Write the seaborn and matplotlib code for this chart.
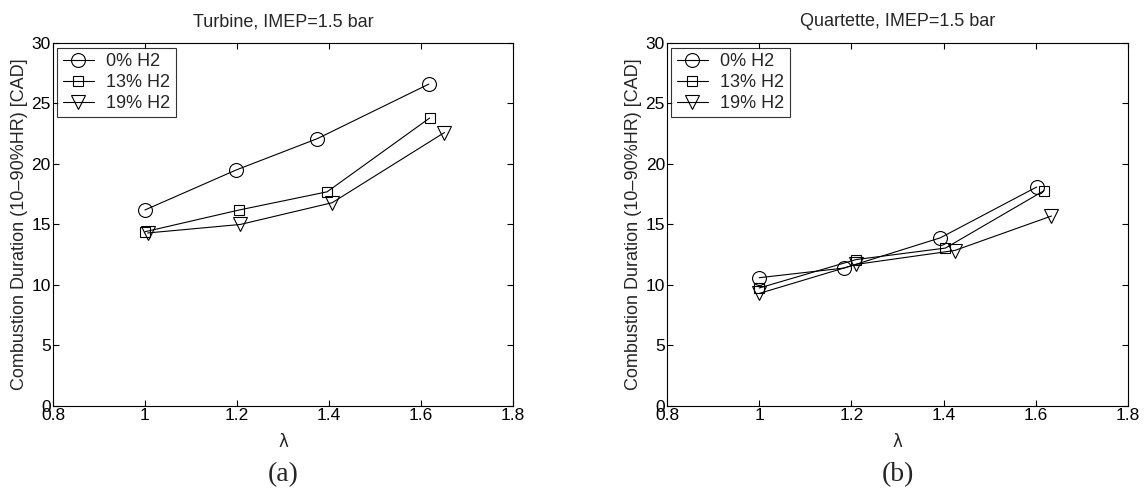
import matplotlib
matplotlib.use("Agg")
import matplotlib.pyplot as plt
import seaborn as sns
import pandas as pd

sns.set_theme(style="white")
plt.rcParams['font.family'] = ['Liberation Sans', 'DejaVu Sans']

series_labels = ["0% H2", "13% H2", "19% H2"]
markers = ["o", "s", "v"]

# Panel (a) Turbine
turb_lambda_0 = [1.0, 1.198, 1.375, 1.617]
turb_cd_0 = [16.2, 19.5, 22.1, 26.6]
turb_lambda_13 = [1.0, 1.205, 1.396, 1.619]
turb_cd_13 = [14.4, 16.2, 17.7, 23.8]
turb_lambda_19 = [1.006, 1.207, 1.407, 1.651]
turb_cd_19 = [14.3, 15.0, 16.8, 22.6]

# Panel (b) Quartette
quar_lambda_0 = [1.0, 1.184, 1.393, 1.602]
quar_cd_0 = [10.6, 11.4, 13.9, 18.1]
quar_lambda_13 = [1.0, 1.21, 1.404, 1.618]
quar_cd_13 = [9.75, 12.1, 13.05, 17.8]
quar_lambda_19 = [1.0, 1.21, 1.424, 1.634]
quar_cd_19 = [9.3, 11.7, 12.85, 15.7]

titles = ["Turbine, IMEP=1.5 bar", "Quartette, IMEP=1.5 bar"]
panel_letters = ["(a)", "(b)"]
xticks = [0.8, 1.0, 1.2, 1.4, 1.6, 1.8]
xticklabels = ["0.8", "1", "1.2", "1.4", "1.6", "1.8"]
yticks = [0, 5, 10, 15, 20, 25, 30]

panels = [
    [(turb_lambda_0, turb_cd_0), (turb_lambda_13, turb_cd_13), (turb_lambda_19, turb_cd_19)],
    [(quar_lambda_0, quar_cd_0), (quar_lambda_13, quar_cd_13), (quar_lambda_19, quar_cd_19)],
]

fig = plt.figure(figsize=(11.46, 4.93), dpi=100)
positions = [[0.0462, 0.1765, 0.4014, 0.7363], [0.582, 0.1765, 0.4023, 0.7363]]

for p, (pos, data) in enumerate(zip(positions, panels)):
    ax = fig.add_axes(pos)
    for (xs, ys), lab, mk in zip(data, series_labels, markers):
        df = pd.DataFrame({"x": xs, "y": ys})
        sns.lineplot(data=df, x="x", y="y", ax=ax, color="black", linewidth=0.8,
                     marker=mk, markersize=10 if mk != "s" else 7.5,
                     markerfacecolor="none", markeredgecolor="black",
                     markeredgewidth=0.8, label=lab, sort=False)
    ax.set_xlim(0.8, 1.8)
    ax.set_ylim(0, 30)
    ax.set_xticks(xticks)
    ax.set_xticklabels(xticklabels)
    ax.set_yticks(yticks)
    ax.tick_params(direction="in", length=4, width=0.8, top=True, right=True,
                   labelsize=12.5, colors="black", pad=1.5,
                   bottom=True, left=True)
    for s in ax.spines.values():
        s.set_color("black")
        s.set_linewidth(0.8)
    ax.set_xlabel("λ", fontsize=12, family=['DejaVu Sans'])
    ax.xaxis.set_label_coords(0.5, -0.099)
    ax.xaxis.label.set_va("center")
    ax.set_ylabel("Combustion Duration (10\u201390%HR) [CAD]", fontsize=13)
    ax.yaxis.set_label_coords(-0.072, 0.5)
    ax.yaxis.label.set_va("center")
    ax.text(0.5, 1.058, titles[p], transform=ax.transAxes, ha="center",
            va="center", fontsize=13)
    leg = ax.legend(loc="upper left", fontsize=13, frameon=True, fancybox=False,
                    edgecolor="black", borderaxespad=0.25, handlelength=1.7,
                    labelspacing=0.22, borderpad=0.3, handletextpad=0.7)
    leg.get_frame().set_linewidth(0.8)
    ax.text(0.5, -0.19, panel_letters[p], transform=ax.transAxes, ha="center",
            va="center", fontsize=20, family=['Liberation Serif'])

fig.savefig("out.png", dpi=100)
